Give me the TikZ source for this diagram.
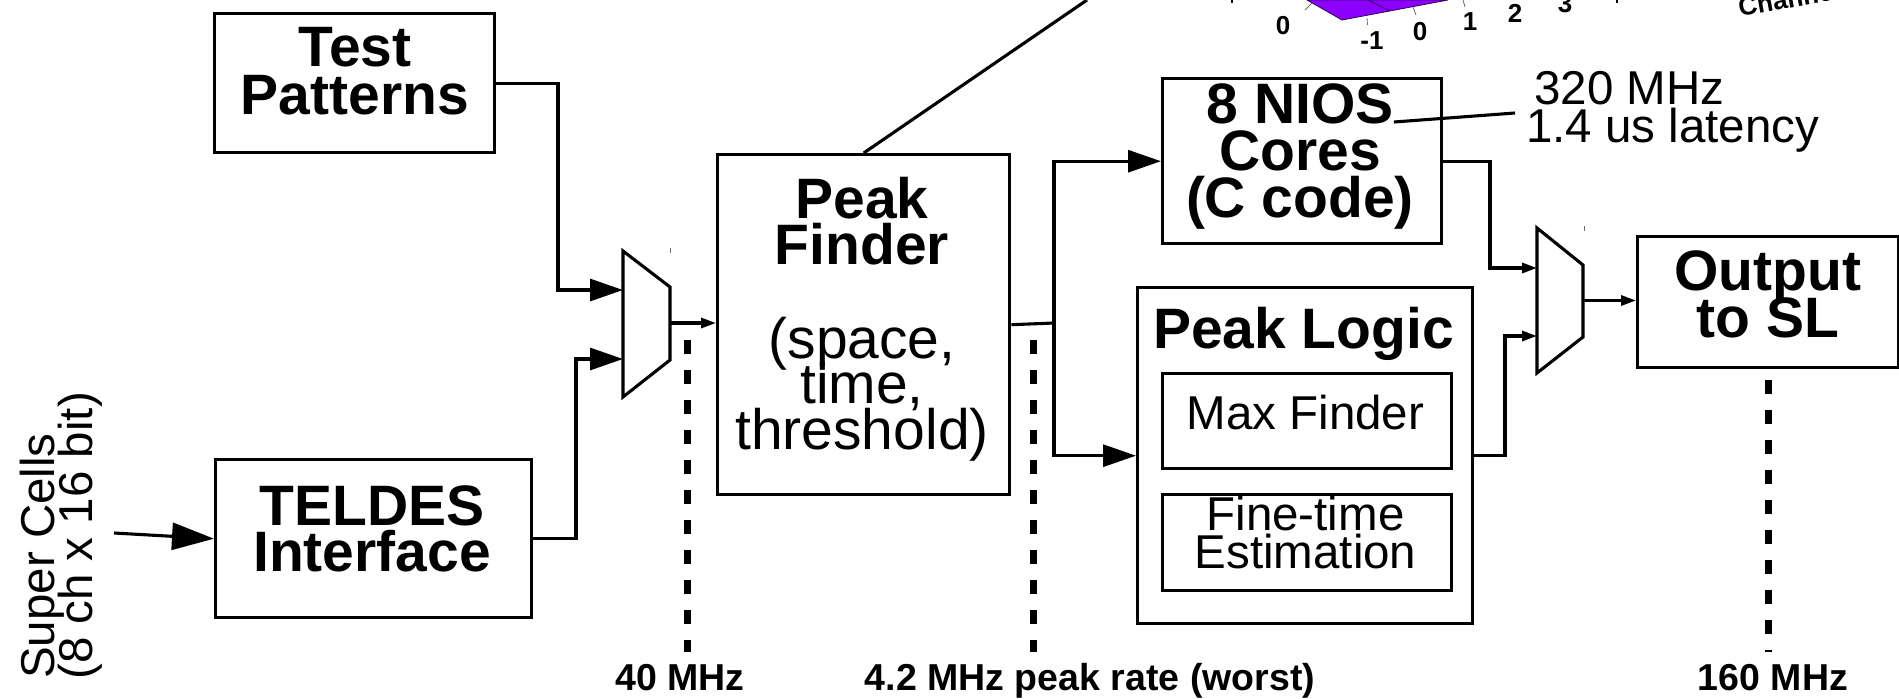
\documentclass[tikz,border=0pt]{standalone}
\usepackage{fontspec}
\setmainfont{Liberation Sans}
\usetikzlibrary{arrows.meta,calc}
\definecolor{plotviolet}{RGB}{140,0,255}
\definecolor{plotedge}{RGB}{50,0,90}
\definecolor{tickgrey}{RGB}{110,110,110}
\begin{document}
\begin{tikzpicture}[x=1pt,y=-1pt,
  box/.style={draw, line width=3.4pt, inner sep=0pt, anchor=north west},
  conn/.style={line width=3.1pt},
  bigarrow/.style={conn, -{Triangle[length=33pt,width=22pt]}},
  hugearrow/.style={conn, -{Triangle[length=42pt,width=27pt]}},
  smallarrow/.style={conn, -{Triangle[length=15pt,width=10pt]}},
  bt/.style={inner sep=0pt, anchor=base, font=\fontsize{57}{57}\selectfont\bfseries},
  rt/.style={inner sep=0pt, anchor=base, font=\fontsize{57}{57}\selectfont},
  st/.style={inner sep=0pt, anchor=base, font=\fontsize{47.5}{47.5}\selectfont},
  lbl/.style={inner sep=0pt, anchor=base, font=\fontsize{37.5}{37.5}\selectfont\bfseries},
  tk/.style={inner sep=0pt, font=\fontsize{26}{26}\selectfont\bfseries},
  rate/.style={line width=7pt, dash pattern=on 14pt off 16pt},
  mux/.style={line width=3.1pt, line join=miter},
]
\path[use as bounding box] (0,0) rectangle (1899,699);
\clip (0,0) rectangle (1899,699);

% ---- plot fragment at the top ----
\filldraw[fill=plotviolet, draw=plotedge, line width=0.8pt] (1307,0) -- (1342,20) -- (1448,0) -- cycle;
\draw[plotedge, line width=0.8pt] (1368,0) -- (1390,11);
\draw[tickgrey, line width=0.8pt] (1305,10) -- (1312,3);
\draw[tickgrey, line width=0.8pt] (1367,18) -- (1367.5,25);
\draw[tickgrey, line width=0.8pt] (1413,7) -- (1416,15);
\draw[tickgrey, line width=0.8pt] (1463,0) -- (1465,7);
\draw[line width=2.5pt] (1232,0) -- (1232,3);
\draw[line width=2.5pt] (1617,0) -- (1617,3);
\node[tk] (t0a) at (1283,26) {0};
\node[tk] (tm1) at (1372,41) {-1};
\node[tk] (t0b) at (1420,32) {0};
\node[tk] (t1) at (1470,22) {1};
\node[tk] (t2) at (1515,13) {2};
\node[tk] (t3) at (1565,3.5) {3};
\node[tk, anchor=base west, rotate=10] (chan) at (1740,17) {Channel};

% ---- boxes ----
\node[box, minimum width=280pt, minimum height=139pt] (tp) at (213,12) {};
\node[box, minimum width=316pt, minimum height=158pt] (tel) at (214,458) {};
\node[box, minimum width=292pt, minimum height=340pt] (pf) at (716,153) {};
\node[box, minimum width=279pt, minimum height=165pt] (nios) at (1161,77) {};
\node[box, minimum width=335pt, minimum height=336pt] (pl) at (1136,286) {};
\node[box, minimum width=289pt, minimum height=95pt] (mf) at (1161,372) {};
\node[box, minimum width=289pt, minimum height=96pt] (ft) at (1161,493) {};
\node[box, minimum width=261pt, minimum height=131pt] (out) at (1636,235) {};

% ---- texts in boxes ----
\node[bt] (tpa) at (355,66) {Test};
\node[bt] (tpb) at (355,114) {Patterns};
\node[bt] (tela) at (372,525) {TELDES};
\node[bt] (telb) at (372,571) {Interface};
\node[bt] (pfa) at (862,218) {Peak};
\node[bt] (pfb) at (862,264) {Finder};
\node[rt] (pfc) at (862,358) {(space,};
\node[rt] (pfd) at (862,403) {time,};
\node[rt] (pfe) at (862,449) {threshold)};
\node[bt] (niosa) at (1300,123) {8 NIOS};
\node[bt] (niosb) at (1300,170) {Cores};
\node[bt] (niosc) at (1300,217) {(C code)};
\node[bt] (pla) at (1303.5,348) {Peak Logic};
\node[st] (mfa) at (1305.5,429) {Max Finder};
\node[st] (fta) at (1305.5,530) {Fine-time};
\node[st] (ftb) at (1305.5,568) {Estimation};
\node[bt] (outa) at (1768,290) {Output};
\node[bt] (outb) at (1768,337) {to SL};

% ---- side texts ----
\node[st, anchor=base west, rotate=90] (sca) at (54,679) {Super Cells};
\node[st, anchor=base west, rotate=90] (scb) at (92,680) {(8 ch x 16 bit)};
\node[st, anchor=base west] (ana) at (1534,104) {320 MHz};
\node[st, anchor=base west] (anb) at (1526,142) {1.4 us latency};

% ---- multiplexers ----
\draw[mux] (623,251) -- (670,287) -- (670,360) -- (623,397) -- cycle;
\coordinate (m1a) at (623,290);
\coordinate (m1b) at (623,359);
\coordinate (m1o) at (670,323);
\draw[tickgrey, line width=1pt] (670,248) -- (670,253);
\draw[mux] (1537,228) -- (1583,265) -- (1583,337) -- (1537,373) -- cycle;
\coordinate (m2a) at (1537,268);
\coordinate (m2b) at (1537,336);
\coordinate (m2o) at (1583,300.5);
\draw[tickgrey, line width=1pt] (1584,226) -- (1584,231);

% ---- connectors ----
\coordinate (scin) at (114,533);
\draw[hugearrow] (scin) -- (tel.west);
\coordinate (j1) at (558,290);
\draw[bigarrow] (tp.east) -| (j1) -- (m1a);
\coordinate (j2) at (576,359);
\draw[bigarrow] (tel.east) -| (j2) -- (m1b);
\draw[smallarrow] (m1o) -- (m1o -| pf.west);
\coordinate (jn) at (1054,323);
\draw[conn] (pf.east) -- (jn);
\draw[bigarrow] (jn) |- (nios.west);
\draw[bigarrow] (jn) |- (pl.west);
\coordinate (j3) at (1490,268);
\draw[smallarrow] (nios.east) -| (j3) -- (m2a);
\coordinate (j4) at (1505,336);
\draw[smallarrow] (pl.east) -| (j4) -- (m2b);
\draw[smallarrow] (m2o) -- (m2o -| out.west);
\coordinate (a1) at (1394,122);
\coordinate (a2) at (1515,113);
\draw[conn] (a1) -- (a2);
\coordinate (plotc) at (1087,0);
\draw[conn] (pf.north) -- (plotc);

% ---- clock-domain markers ----
\draw[rate] (687,340) -- (687,652);
\draw[rate] (1033,340) -- (1033,652);
\draw[rate] (1768,380) -- (1768,652);
\node[lbl] (l40) at (680,690) {40 MHz};
\node[lbl] (l42) at (1090,690) {4.2 MHz peak rate (worst)};
\node[lbl] (l160) at (1773,690) {160 MHz};
\end{tikzpicture}
\end{document}
